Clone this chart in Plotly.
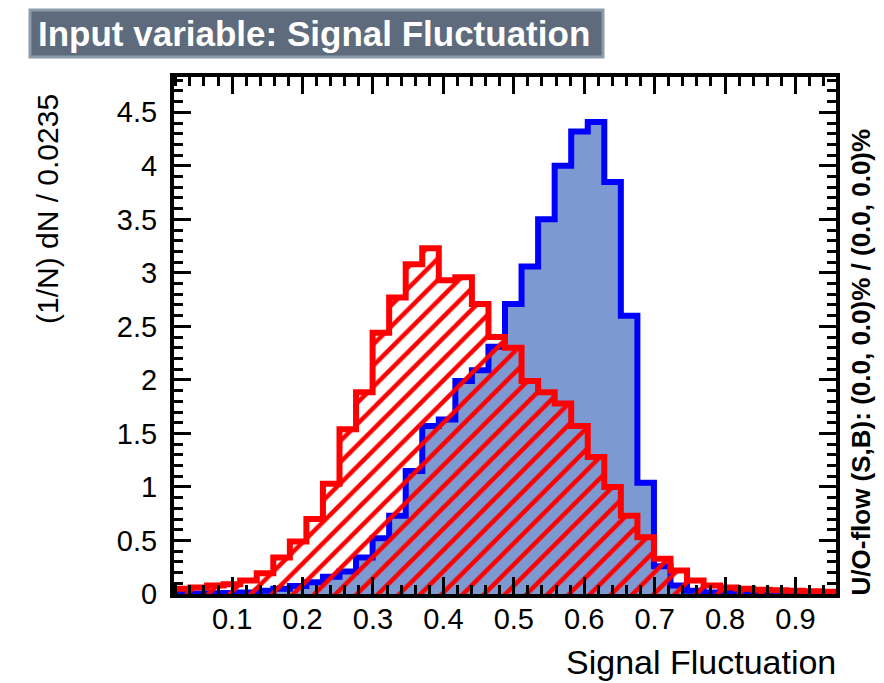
import plotly.graph_objects as go

# ---- data -------------------------------------------------------------
x_min = 0.0175
bin_width = 0.0235
n_bins = 40

signal = [0.005, 0.005, 0.008, 0.01, 0.015, 0.03, 0.05, 0.075, 0.11, 0.16,
          0.21, 0.34, 0.52, 0.73, 1.15, 1.57, 1.63, 1.99, 2.09, 2.31,
          2.71, 3.06, 3.50, 4.00, 4.32, 4.41, 3.85, 2.60, 1.04, 0.26,
          0.08, 0.03, 0.015, 0.01, 0.005, 0.003, 0.002, 0.001, 0.0, 0.0]

background = [0.05, 0.06, 0.08, 0.09, 0.125, 0.195, 0.34, 0.49, 0.70, 1.03,
              1.54, 1.885, 2.44, 2.77, 3.08, 3.23, 2.93, 2.96, 2.71, 2.40,
              2.30, 1.99, 1.885, 1.78, 1.57, 1.28, 1.00, 0.73, 0.53, 0.33,
              0.22, 0.125, 0.08, 0.06, 0.05, 0.04, 0.035, 0.03, 0.025, 0.02]

x_ticks = [0.1, 0.2, 0.3, 0.4, 0.5, 0.6, 0.7, 0.8, 0.9]
y_ticks = [0, 0.5, 1, 1.5, 2, 2.5, 3, 3.5, 4, 4.5]

edges = [x_min + i * bin_width for i in range(n_bins + 1)]
x_max = edges[-1]


def step(vals):
    xs = [edges[0]] + edges + [edges[-1]]
    ys = [0] + list(vals) + [vals[-1]] + [0]
    return xs, ys


FONT = "Liberation Sans, Arial, Helvetica, sans-serif"

fig = go.Figure()

sx, sy = step(signal)
fig.add_trace(go.Scatter(
    x=sx, y=sy, mode="lines", line=dict(shape="hv", color="#0000ff", width=6),
    fill="tozeroy", fillcolor="#7d99d1", showlegend=False, hoverinfo="skip"))

bx, by = step(background)
fig.add_trace(go.Scatter(
    x=bx, y=by, mode="lines", line=dict(shape="hv", color="#ff0000", width=6),
    fill="tozeroy", fillcolor="rgba(0,0,0,0)",
    fillpattern=dict(shape="/", fgcolor="#ff0000", fgopacity=1,
                     bgcolor="rgba(0,0,0,0)", size=15, solidity=0.3,
                     fillmode="overlay"),
    showlegend=False, hoverinfo="skip"))

# plot area pixels: x 174..836, y 77..594
L, R, T, B = 174, 836, 77, 594
W, H = R - L, B - T


def px(x):
    return (x - L) / W


def py(y):
    return (B - y) / H


axis_common = dict(
    showline=True, linecolor="black", linewidth=4, mirror="allticks",
    ticks="inside", ticklen=17, tickwidth=3, tickcolor="black",
    showgrid=False, zeroline=False,
    tickfont=dict(family=FONT, size=29, color="black"),
)

fig.update_layout(
    width=884, height=683,
    margin=dict(l=L, r=884 - R, t=T, b=683 - B),
    paper_bgcolor="white", plot_bgcolor="white",
    xaxis=dict(range=[x_min, x_max], tickvals=x_ticks,
               ticktext=[f"{v:g}" for v in x_ticks],
               minor=dict(ticks="inside", dtick=0.02, tick0=0, ticklen=9,
                          tickwidth=3, tickcolor="black"),
               ticklabelstandoff=-4, **axis_common),
    yaxis=dict(range=[0, 4.83], tickvals=y_ticks,
               ticktext=[f"{v:g}" for v in y_ticks],
               minor=dict(ticks="inside", dtick=0.1, tick0=0, ticklen=9,
                          tickwidth=3, tickcolor="black"),
               ticklabelstandoff=7, **axis_common),
    shapes=[dict(type="rect", xref="paper", yref="paper",
                 x0=px(30), x1=px(603), y0=py(57), y1=py(10),
                 fillcolor="#5d6b7d", line=dict(color="#8c9cab", width=3),
                 layer="above")],
    annotations=[
        dict(text="<b>Input variable: Signal Fluctuation</b>", xref="paper",
             yref="paper", x=px(314), y=py(33), xanchor="center",
             yanchor="middle", showarrow=False,
             font=dict(family=FONT, size=35, color="white")),
        dict(text="(1/N) dN / 0.0235", xref="paper", yref="paper",
             x=px(47), y=py(92), xanchor="center", yanchor="top",
             textangle=-90, showarrow=False,
             font=dict(family=FONT, size=30, color="black")),
        dict(text="Signal Fluctuation", xref="paper", yref="paper",
             x=px(838), y=py(662), xanchor="right", yanchor="middle",
             showarrow=False, font=dict(family=FONT, size=34, color="black")),
        dict(text="<b>U/O-flow (S,B): (0.0, 0.0)% / (0.0, 0.0)%</b>",
             xref="paper", yref="paper", x=px(860), y=py(598),
             xanchor="center", yanchor="bottom", textangle=-90,
             showarrow=False, font=dict(family=FONT, size=26, color="black")),
    ],
)

fig.write_html("out.html")
